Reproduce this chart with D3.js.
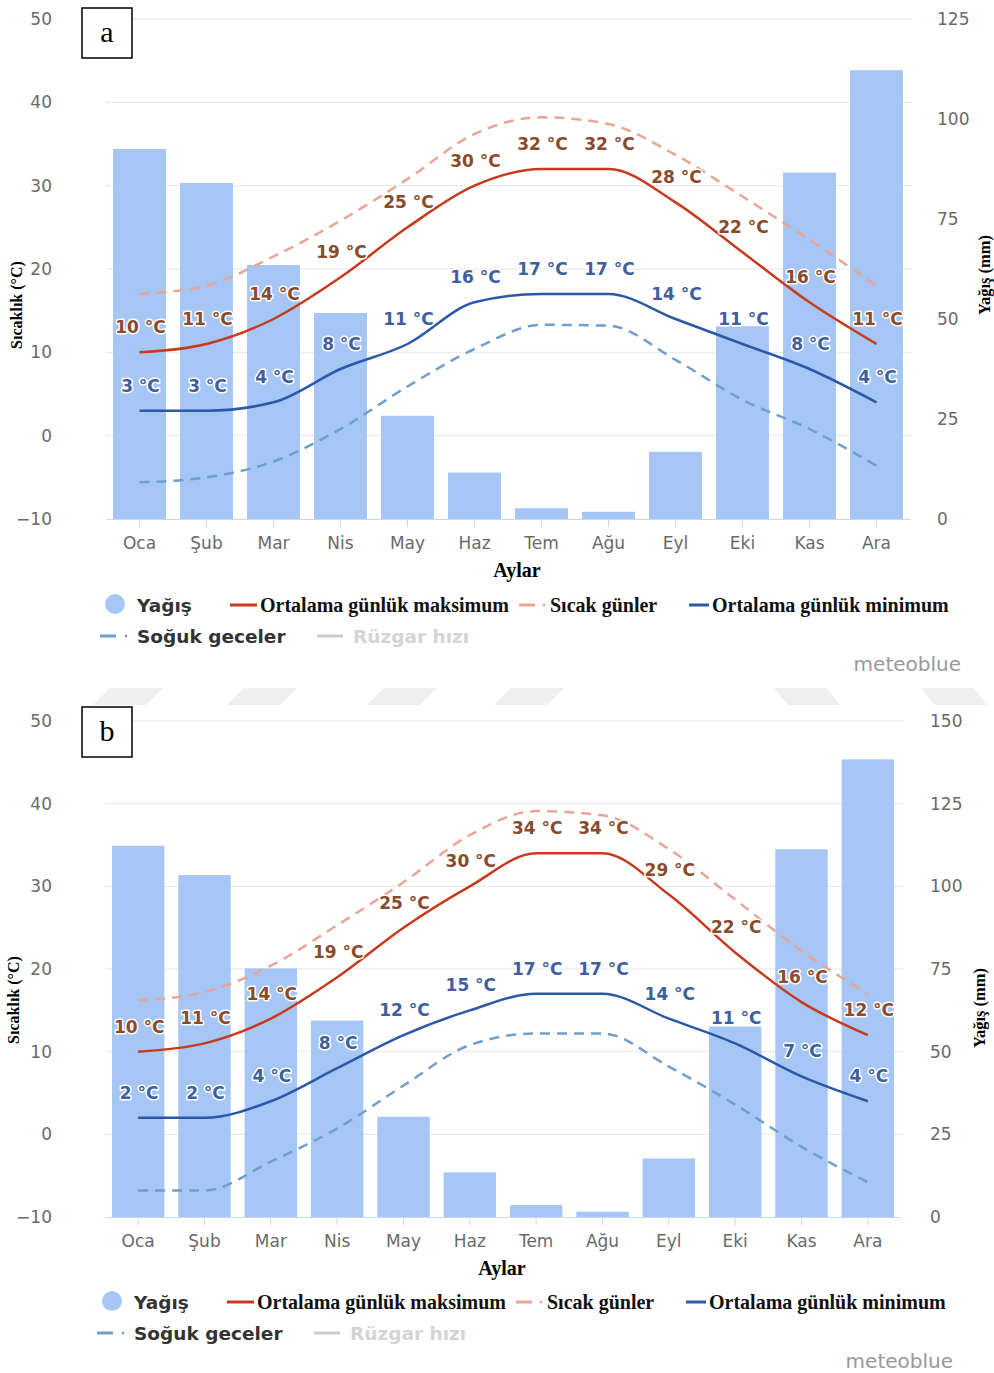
<!DOCTYPE html>
<html>
<head>
<meta charset="utf-8">
<script src="https://cdn.jsdelivr.net/npm/d3@7"></script>
<style>
  body { margin: 0; background: #fff; }
  svg { display: block; }
</style>
</head>
<body>
<svg id="chart" width="994" height="1373"></svg>
<script>
// Month labels
const months = ['Oca', 'Şub', 'Mar', 'Nis', 'May', 'Haz', 'Tem', 'Ağu', 'Eyl', 'Eki', 'Kas', 'Ara']
const tempTicks = [-10, 0, 10, 20, 30, 40, 50]

// Panel a
const precipA = [92.5, 84, 63.5, 51.5, 25.8, 11.6, 2.7, 1.8, 16.8, 48.2, 86.6, 112.2]
const maxA = [10, 11, 14, 19, 25, 30, 32, 32, 28, 22, 16, 11]
const hotA = [17, 18, 21.5, 25.8, 30.8, 36.2, 38.2, 37.4, 33.7, 28.7, 23.5, 18]
const minA = [3, 3, 4, 8, 11, 16, 17, 17, 14, 11, 8, 4]
const coldA = [-5.6, -5, -3.1, 0.8, 5.9, 10.4, 13.3, 13.2, 9.1, 4.3, 0.8, -3.6]
const precipTicksA = [0, 25, 50, 75, 100, 125]

// Panel b
const precipB = [112.3, 103.4, 75.2, 59.4, 30.3, 13.5, 3.6, 1.6, 17.7, 57.6, 111.2, 138.4]
const maxB = [10, 11, 14, 19, 25, 30, 34, 34, 29, 22, 16, 12]
const hotB = [16.2, 17.2, 20.4, 25.3, 30.5, 36.2, 39.1, 38.6, 34.5, 28.4, 22.2, 17.0]
const minB = [2, 2, 4, 8, 12, 15, 17, 17, 14, 11, 7, 4]
const coldB = [-6.8, -6.8, -3.3, 0.7, 5.9, 10.8, 12.2, 12.2, 8.2, 3.6, -1.5, -5.8]
const precipTicksB = [0, 25, 50, 75, 100, 125, 150]

// Colors
const barColor = '#a6c6f5'
const maxColor = '#c83a1e'
const hotColor = '#eba597'
const minColor = '#2c58a8'
const coldColor = '#6f9fca'
const maxLabelColor = '#8a4a2c'
const minLabelColor = '#3f5f9f'

const sansFont = '"DejaVu Sans", Verdana, sans-serif'
const serifFont = '"Liberation Serif", "Times New Roman", serif'

const svg = d3.select('#chart')

const drawPanel = (cfg, precip, tmax, hot, tmin, cold, precipTicks) => {
  const g = svg.append('g')

  const x = d3.scaleBand()
    .domain(months)
    .range([cfg.left, cfg.right])
    .paddingInner(0.21)
    .paddingOuter(0.105)
  const cx = m => x(m) + x.bandwidth() / 2

  const yT = d3.scaleLinear().domain([-10, 50]).range([cfg.bottom, cfg.top])
  const yP = d3.scaleLinear().domain([0, d3.max(precipTicks)]).range([cfg.bottom, cfg.top])

  // Gridlines
  g.selectAll('.grid')
    .data(tempTicks.slice(1))
    .enter()
    .append('line')
      .attr('x1', cfg.left)
      .attr('x2', cfg.right + 2)
      .attr('y1', d => yT(d))
      .attr('y2', d => yT(d))
      .attr('stroke', '#e6e6e6')
      .attr('stroke-width', 1)

  // Bars
  g.selectAll('.bar')
    .data(precip)
    .enter()
    .append('rect')
      .attr('x', (d, i) => x(months[i]))
      .attr('y', d => yP(d))
      .attr('width', x.bandwidth())
      .attr('height', d => cfg.bottom - yP(d))
      .attr('fill', barColor)

  // X axis
  const xAxis = g.append('g')
    .attr('transform', `translate(0,${cfg.bottom})`)
    .call(d3.axisBottom(x).tickSize(8).tickSizeOuter(0).tickPadding(10))
  xAxis.select('.domain').attr('stroke', '#ccd6eb')
  xAxis.selectAll('.tick line').attr('stroke', '#ccd6eb')
  xAxis.selectAll('text')
    .attr('fill', '#6a6a6a')
    .attr('font-family', sansFont)
    .attr('font-size', 17)

  // Left axis
  const yAxisL = g.append('g')
    .attr('transform', `translate(${cfg.leftAxisX},0)`)
    .call(d3.axisLeft(yT).tickValues(tempTicks).tickSize(0).tickPadding(6)
      .tickFormat(d => d < 0 ? '−' + Math.abs(d) : d))
  yAxisL.select('.domain').remove()
  yAxisL.selectAll('text')
    .attr('fill', '#6a6a6a')
    .attr('font-family', sansFont)
    .attr('font-size', 17)

  // Right axis
  const yAxisR = g.append('g')
    .attr('transform', `translate(${cfg.rightAxisX},0)`)
    .call(d3.axisRight(yP).tickValues(precipTicks).tickSize(0).tickPadding(6))
  yAxisR.select('.domain').remove()
  yAxisR.selectAll('text')
    .attr('fill', '#6a6a6a')
    .attr('font-family', sansFont)
    .attr('font-size', 17)

  // Lines
  const line = d3.line()
    .x((d, i) => cx(months[i]))
    .y(d => yT(d))
    .curve(d3.curveMonotoneX)

  const series = [
    { data: hot, color: hotColor, dash: '10,7' },
    { data: cold, color: coldColor, dash: '10,7' },
    { data: tmax, color: maxColor, dash: null },
    { data: tmin, color: minColor, dash: null }
  ]
  series.forEach(s => {
    g.append('path')
      .attr('d', line(s.data))
      .attr('fill', 'none')
      .attr('stroke', s.color)
      .attr('stroke-width', 2.5)
      .attr('stroke-dasharray', s.dash)
  })

  // Data labels
  const labelSets = [
    { data: tmax, color: maxLabelColor },
    { data: tmin, color: minLabelColor }
  ]
  labelSets.forEach(s => {
    g.selectAll(null)
      .data(s.data)
      .enter()
      .append('text')
        .attr('x', (d, i) => cx(months[i]) + 1)
        .attr('y', d => yT(d) - 19)
        .attr('text-anchor', 'middle')
        .attr('font-family', sansFont)
        .attr('font-weight', 'bold')
        .attr('font-size', 17)
        .attr('fill', s.color)
        .attr('stroke', '#fff')
        .attr('stroke-width', 3)
        .attr('stroke-linejoin', 'round')
        .attr('paint-order', 'stroke')
        .text(d => d + ' °C')
  })

  // Axis titles
  g.append('text')
    .attr('transform', `translate(${cfg.leftTitleX},${cfg.leftTitleY}) rotate(-90)`)
    .attr('text-anchor', 'middle')
    .attr('font-family', serifFont)
    .attr('font-weight', 'bold')
    .attr('font-size', 16)
    .text('Sıcaklık (°C)')

  g.append('text')
    .attr('transform', `translate(${cfg.rightTitleX},${cfg.rightTitleY}) rotate(-90)`)
    .attr('text-anchor', 'middle')
    .attr('font-family', serifFont)
    .attr('font-weight', 'bold')
    .attr('font-size', 16.5)
    .text('Yağış (mm)')

  g.append('text')
    .attr('x', cfg.aylarX)
    .attr('y', cfg.bottom + 58)
    .attr('text-anchor', 'middle')
    .attr('font-family', serifFont)
    .attr('font-weight', 'bold')
    .attr('font-size', 20)
    .text('Aylar')

  // Legend
  const lx = cfg.legendDx
  const r1 = cfg.legendY
  const r2 = cfg.legendY + 31
  g.append('circle')
    .attr('cx', 115 + lx).attr('cy', r1 - 1).attr('r', 10)
    .attr('fill', barColor)
  const swatch = (x1, x2, y, color) => {
    g.append('line')
      .attr('x1', x1 + lx).attr('x2', x2 + lx)
      .attr('y1', y).attr('y2', y)
      .attr('stroke', color).attr('stroke-width', 3)
  }
  const dot = (x0, y, color) => {
    g.append('rect')
      .attr('x', x0 + lx - 1.2).attr('y', y - 1.2)
      .attr('width', 2.4).attr('height', 2.4)
      .attr('fill', color)
  }
  swatch(230, 257, r1, maxColor)
  swatch(519, 535, r1, hotColor)
  dot(544, r1, hotColor)
  swatch(689, 709, r1, minColor)
  swatch(100, 116, r2, coldColor)
  dot(126, r2, coldColor)
  swatch(317, 343, r2, '#cccccc')

  const legendText = [
    { text: 'Yağış', x: 137, y: r1, font: sansFont, size: 18.5, color: '#333' },
    { text: 'Ortalama günlük maksimum', x: 260, y: r1, font: serifFont, size: 20, color: '#111' },
    { text: 'Sıcak günler', x: 550, y: r1, font: serifFont, size: 20, color: '#111' },
    { text: 'Ortalama günlük minimum', x: 712, y: r1, font: serifFont, size: 20, color: '#111' },
    { text: 'Soğuk geceler', x: 137, y: r2, font: sansFont, size: 18.5, color: '#333' },
    { text: 'Rüzgar hızı', x: 353, y: r2, font: sansFont, size: 18.5, color: '#d4d4d4' }
  ]
  g.selectAll(null)
    .data(legendText)
    .enter()
    .append('text')
      .attr('x', d => d.x + lx)
      .attr('y', d => d.y + 7)
      .attr('font-family', d => d.font)
      .attr('font-weight', 'bold')
      .attr('font-size', d => d.size)
      .attr('fill', d => d.color)
      .text(d => d.text)

  // Credit
  g.append('text')
    .attr('x', cfg.creditX)
    .attr('y', cfg.creditY)
    .attr('text-anchor', 'end')
    .attr('font-family', sansFont)
    .attr('font-size', 20)
    .attr('fill', '#999')
    .text('meteoblue')

  // Panel letter box
  g.append('rect')
    .attr('x', 82).attr('y', cfg.boxY)
    .attr('width', 50).attr('height', 50)
    .attr('fill', '#fff')
    .attr('stroke', '#000')
    .attr('stroke-width', 1.5)
  g.append('text')
    .attr('x', 107).attr('y', cfg.boxY + 34)
    .attr('text-anchor', 'middle')
    .attr('font-family', serifFont)
    .attr('font-size', 30)
    .text(cfg.letter)
}

// Watermark band between the panels
const bandShapes = [
  { x: 93, dir: 1 }, { x: 227, dir: 1 }, { x: 367, dir: 1 }, { x: 494, dir: 1 },
  { x: 774, dir: -1 }, { x: 921, dir: -1 }
]
svg.selectAll('.band')
  .data(bandShapes)
  .enter()
  .append('polygon')
    .attr('points', d => d.dir > 0
      ? `${d.x},705 ${d.x + 53},705 ${d.x + 70},688 ${d.x + 17},688`
      : `${d.x},688 ${d.x + 53},688 ${d.x + 66},705 ${d.x + 14},705`)
    .attr('fill', '#efefef')

drawPanel({
  left: 106, right: 910, top: 19, bottom: 519,
  leftAxisX: 58, rightAxisX: 931,
  leftTitleX: 22, leftTitleY: 305, rightTitleX: 990, rightTitleY: 275,
  aylarX: 517, legendY: 605, legendDx: 0,
  creditX: 961, creditY: 671, boxY: 8, letter: 'a'
}, precipA, maxA, hotA, minA, coldA, precipTicksA)

drawPanel({
  left: 105, right: 901, top: 721, bottom: 1217,
  leftAxisX: 58, rightAxisX: 924,
  leftTitleX: 19, leftTitleY: 1000, rightTitleX: 985, rightTitleY: 1008,
  aylarX: 502, legendY: 1302, legendDx: -3,
  creditX: 953, creditY: 1368, boxY: 707, letter: 'b'
}, precipB, maxB, hotB, minB, coldB, precipTicksB)
</script>
</body>
</html>
